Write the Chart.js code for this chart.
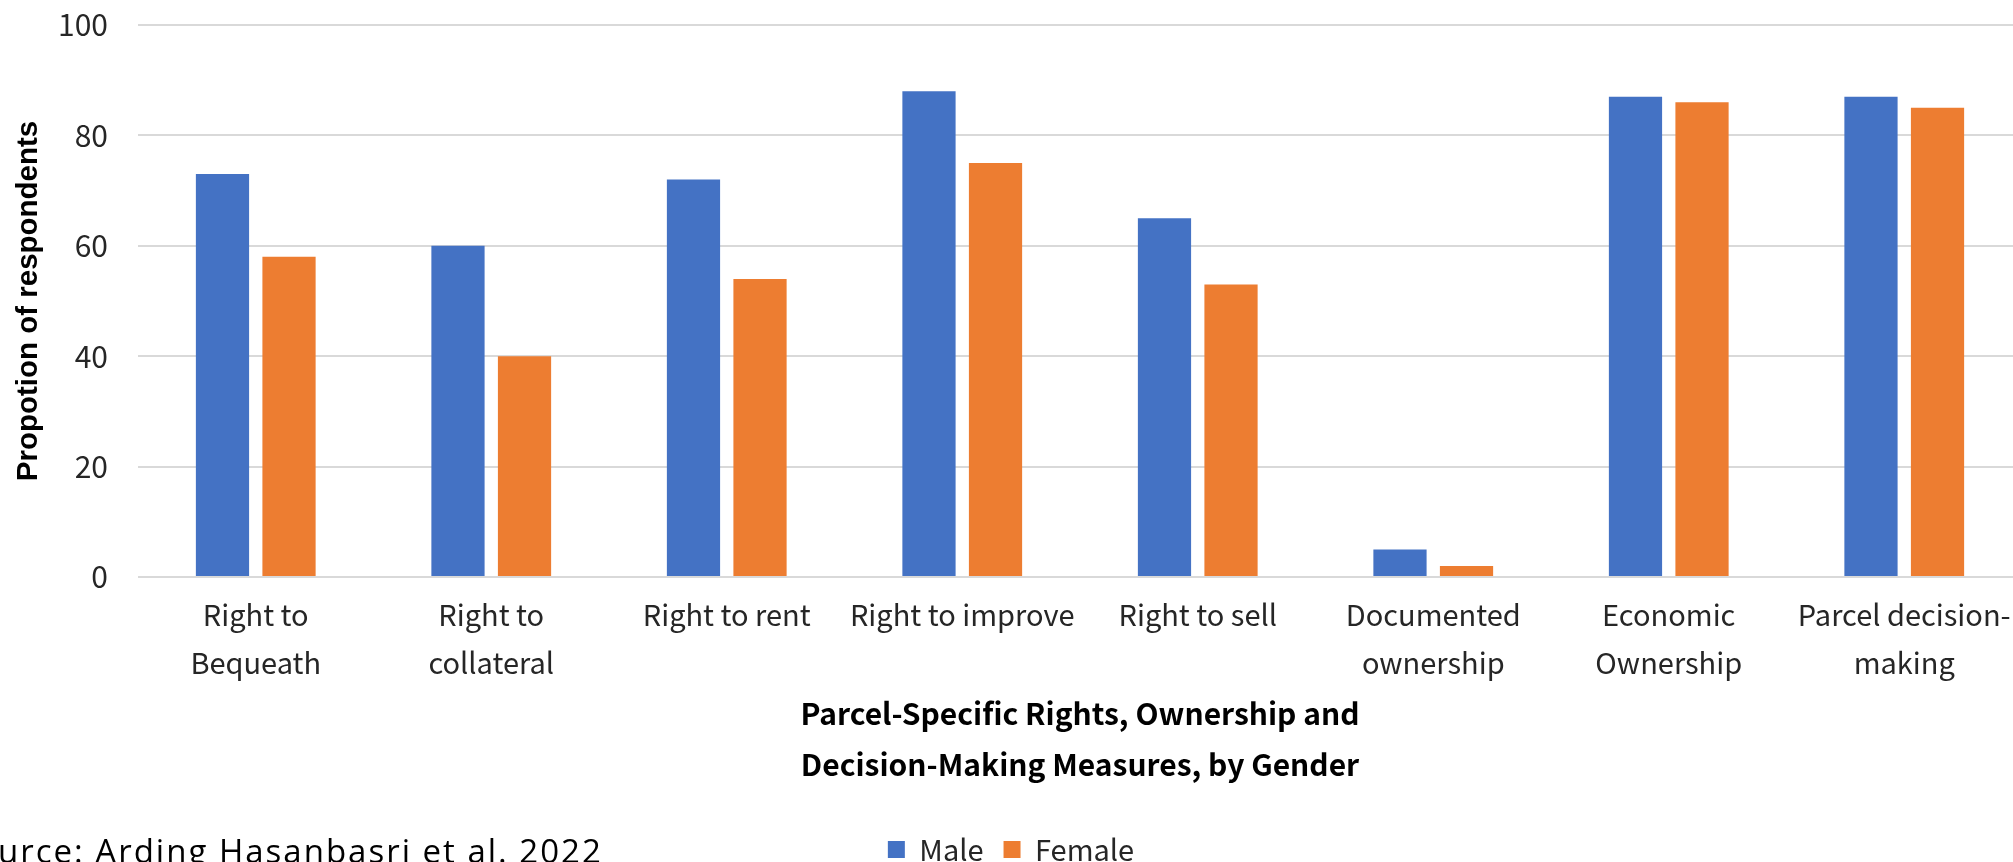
<!DOCTYPE html>
<html>
<head>
<meta charset="utf-8">
<script src="https://cdn.jsdelivr.net/npm/chart.js@4.4.1/dist/chart.umd.min.js"></script>
<style>
  body { margin: 0; background: #fff; }
  #wrap { position: relative; width: 2013px; height: 862px; overflow: hidden; background: #fff; }
  #grafico { position: absolute; left: 0; top: 0; }
  #fonte { position: absolute; top: 828px; left: 0; font-family: "Open Sans", sans-serif; font-size: 33px; letter-spacing: 2px; color: #000; white-space: nowrap; }
</style>
</head>
<body>
<div id="wrap">
  <canvas id="grafico" width="2022" height="874"></canvas>
  <div id="fonte">Source: Arding Hasanbasri et al. 2022</div>
</div>
<script>
// dati
var categorie = [['Right to', 'Bequeath'], ['Right to', 'collateral'], 'Right to rent', 'Right to improve',
    'Right to sell', ['Documented', 'ownership'], ['Economic', 'Ownership'], ['Parcel decision-', 'making']];
var maschi = [73, 60, 72, 88, 65, 5, 87, 87];
var femmine = [58, 40, 54, 75, 53, 2, 86, 85];
var tickY = [0, 20, 40, 60, 80, 100];

var fontTesto = '"Noto Sans CJK JP", "Noto Sans", sans-serif';

// la fonte parte tagliata a sinistra ("So" fuori dal quadro)
var fonte = document.getElementById('fonte');
var misura = document.createElement('canvas').getContext('2d');
misura.font = '33px "Open Sans"';
fonte.style.left = (-misura.measureText('So').width - 4 - 2) + 'px';

var ctx = document.getElementById('grafico');
var chart = new Chart(ctx, {
    type: 'bar',
    data: {
        labels: categorie,
        datasets: [{
            label: 'Male',
            backgroundColor: '#4472C4',
            data: maschi
        },
        {
            label: 'Female',
            backgroundColor: '#ED7D31',
            data: femmine
        }]
    },
    options: {
        responsive: false,
        devicePixelRatio: 1,
        animation: false,
        categoryPercentage: 0.565,
        barPercentage: 0.8,
        layout: { padding: { top: 25, left: 0, right: 0, bottom: 0 } },
        plugins: {
            tooltip: { enabled: false },
            legend: {
                position: 'bottom',
                labels: {
                    boxWidth: 17,
                    boxHeight: 17,
                    padding: 20,
                    color: '#262626',
                    font: { family: fontTesto, size: 29 }
                }
            }
        },
        scales: {
            x: {
                grid: { display: false, drawTicks: false },
                border: { display: false },
                ticks: {
                    autoSkip: false,
                    maxRotation: 0,
                    minRotation: 0,
                    padding: 14,
                    color: '#262626',
                    font: { family: fontTesto, size: 29, lineHeight: 1.655 }
                },
                title: {
                    display: true,
                    text: ['Parcel-Specific Rights, Ownership and', 'Decision-Making Measures, by Gender'],
                    color: '#000',
                    padding: { top: 0, bottom: 24.5 },
                    font: { family: fontTesto, size: 30, weight: 'bold', lineHeight: 1.7 }
                },
                afterFit: function (s) {
                    s.height = s.chart.height - s.chart.legend.height - 577;
                    s.paddingLeft = 0;
                    s.paddingRight = 0;
                }
            },
            y: {
                min: 0,
                max: 100,
                grid: { color: '#D9D9D9', lineWidth: 2, drawTicks: false },
                border: { display: false },
                ticks: {
                    padding: 30,
                    color: '#262626',
                    font: { family: fontTesto, size: 30 }
                },
                afterBuildTicks: function (s) {
                    s.ticks = tickY.map(function (v) { return { value: v }; });
                },
                title: {
                    display: true,
                    text: 'Propotion of respondents',
                    color: '#000',
                    padding: { top: 11, bottom: 0 },
                    font: { family: '"Liberation Sans", Arial, sans-serif', size: 29.5, weight: 'bold', lineHeight: 1.2 }
                },
                afterFit: function (s) {
                    s.width = 138;
                    s.paddingTop = 0;
                    s.paddingBottom = 0;
                }
            }
        }
    }
});
</script>
</body>
</html>
